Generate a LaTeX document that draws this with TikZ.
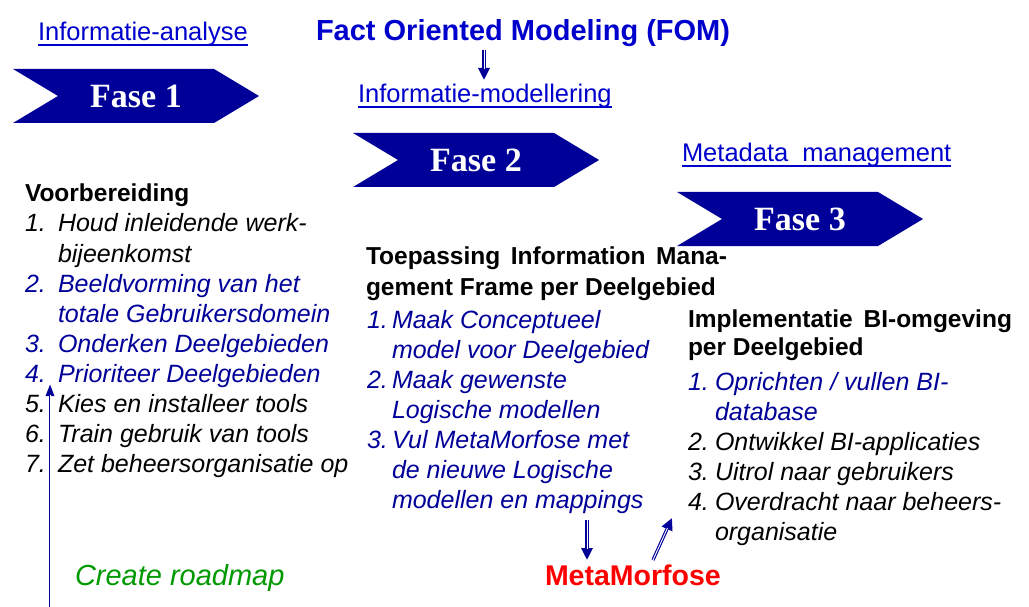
\documentclass[tikz,border=0pt]{standalone}
\usepackage{fontspec}
\setmainfont{Liberation Sans}
\newfontfamily\fasefont{Liberation Serif}
\usetikzlibrary{arrows.meta,calc}
\definecolor{navy}{HTML}{000099}
\definecolor{linkblue}{HTML}{0000CC}
\definecolor{itemblue}{HTML}{000099}
\definecolor{fomblue}{HTML}{0000CC}
\definecolor{rmgreen}{HTML}{009900}
\definecolor{mmred}{HTML}{FF0000}
\newcommand\myarrow[6]{%
  \draw[navy, line width=#3, -{Triangle[length=#4,width=#5]}] (#1) -- (#2);
  \draw[white, line width=#6, shorten >=#4-1pt] (#1) -- (#2);}
\newcommand\myunderline[1]{%
  \draw[linkblue, line width=1.5pt] ($(#1.base west)+(0,4)$) -- ($(#1.base east)+(0,4)$);}
\tikzset{
  txt/.style={inner sep=0, outer sep=0, anchor=base west},
  link/.style={txt, text=linkblue, font=\fontsize{25.5}{30}\selectfont},
  hdr/.style={txt, font=\fontsize{24.5}{30}\selectfont\bfseries},
  item/.style={txt, font=\fontsize{25}{30}\selectfont\itshape},
  fase/.style={inner sep=0, text=white, font=\fasefont\bfseries\fontsize{34}{40}\selectfont},
}
\begin{document}
\begin{tikzpicture}[x=1pt,y=-1pt]
\useasboundingbox (0,0) rectangle (1029,607);
\fill[white] (0,0) rectangle (1029,607);

% chevrons
\foreach \x/\y/\n in {13/69/1,353/133/2,677/192/3}{
  \fill[navy] (\x,\y) -- ++(201,0) -- ++(45,27) -- ++(-45,27) -- ++(-201,0) -- ++(45,-27) -- cycle;
  \node[fase] (f\n) at (\x+123,\y+27) {Fase \n};
}

% links / titles
\node[link] (ia) at (38,41) {Informatie-analyse};
\myunderline{ia}
\node[link] (im) at (358,103) {Informatie-modellering};
\myunderline{im}
\node[link] (mm) at (682,162) {Metadata~~management};
\myunderline{mm}
\node[txt, text=fomblue, font=\fontsize{29}{32}\selectfont\bfseries] (fom) at (316,41)
  {Fact Oriented Modeling (FOM)};

% left column
\node[hdr] (vb) at (25,201) {Voorbereiding};
\foreach \t/\c [count=\k] in {{Houd inleidende werk-}/black,{bijeenkomst}/black,
  {Beeldvorming van het}/itemblue,{totale Gebruikersdomein}/itemblue,
  {Onderken Deelgebieden}/itemblue,{Prioriteer Deelgebieden}/itemblue,
  {Kies en installeer tools}/black,{Train gebruik van tools}/black,
  {Zet beheersorganisatie op}/black}{
  \node[item, text=\c] (lt\k) at (58,{232+30*(\k-1)}) {\t};
}
\foreach \t/\c/\r in {1./black/1,2./itemblue/3,3./itemblue/5,4./itemblue/6,5./black/7,6./black/8,7./black/9}{
  \node[item, text=\c] (ln\r) at (25,{232+30*(\r-1)}) {\t};
}

% middle column
\node[hdr] (mh1) at (366,265) {\makebox[361pt][s]{Toepassing Information Mana-}};
\node[hdr] (mh2) at (366,295) {gement Frame per Deelgebied};
\foreach \t [count=\k] in {{Maak Conceptueel},{model voor Deelgebied},{Maak gewenste},
  {Logische modellen},{Vul MetaMorfose met},{de nieuwe Logische},{modellen en mappings}}{
  \node[item, text=itemblue] (mt\k) at (392,{328+30*(\k-1)}) {\t};
}
\foreach \t/\r in {1./1,2./3,3./5}{
  \node[item, text=itemblue] (mn\r) at (367,{328+30*(\r-1)}) {\t};
}

% right column
\node[hdr] (rh1) at (688,327) {\makebox[324pt][s]{Implementatie \ BI-omgeving}};
\node[hdr] (rh2) at (688,355) {per Deelgebied};
\foreach \t/\c [count=\k] in {{Oprichten / vullen BI-}/itemblue,{database}/itemblue,
  {Ontwikkel BI-applicaties}/black,{Uitrol naar gebruikers}/black,
  {Overdracht naar beheers-}/black,{organisatie}/black}{
  \node[item, text=\c] (rt\k) at (715,{390+30*(\k-1)}) {\t};
}
\foreach \t/\c/\r in {1./itemblue/1,2./black/3,3./black/4,4./black/5}{
  \node[item, text=\c] (rn\r) at (688,{390+30*(\r-1)}) {\t};
}

% bottom labels
\node[txt, text=rmgreen, font=\fontsize{29}{32}\selectfont\itshape] (cr) at (75,585) {Create roadmap};
\node[txt, text=mmred, font=\fontsize{28.5}{32}\selectfont\bfseries] (mmf) at (545,585) {MetaMorfose};

% arrows
\coordinate (fa1) at (484,50);  \coordinate (fa2) at (484,80);
\myarrow{fa1}{fa2}{3.2pt}{12pt}{11pt}{0.9pt}
\coordinate (la1) at (50,607);  \coordinate (la2) at (50,384);
\myarrow{la1}{la2}{2.8pt}{12pt}{8pt}{0.6pt}
\coordinate (da1) at (587,520); \coordinate (da2) at (587,560);
\myarrow{da1}{da2}{3.2pt}{12pt}{11pt}{0.9pt}
\coordinate (ua1) at (653,560); \coordinate (ua2) at (672,518);
\myarrow{ua1}{ua2}{3.2pt}{12pt}{11pt}{0.9pt}
\end{tikzpicture}
\end{document}
